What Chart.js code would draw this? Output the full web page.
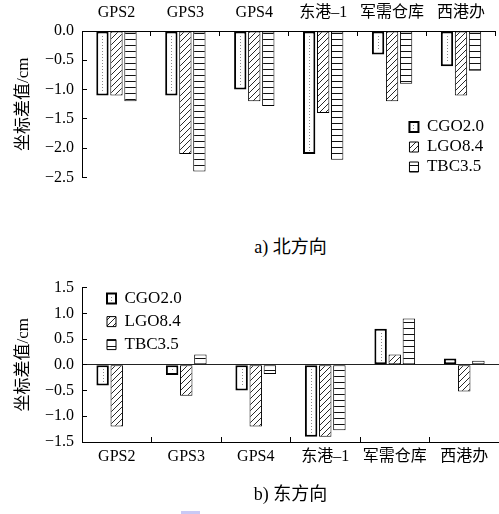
<!DOCTYPE html>
<html>
<head>
<meta charset="utf-8">
<script src="https://cdn.jsdelivr.net/npm/chart.js@4.4.0/dist/chart.umd.min.js"></script>
<style>
  html, body { margin: 0; padding: 0; background: #fff; }
  #wrap { position: relative; width: 499px; height: 514px; overflow: hidden; }
  #northBox { position: absolute; left: 0; top: 0; width: 499px; height: 200px; }
  #eastBox { position: absolute; left: 0; top: 265px; width: 499px; height: 215px; }
  .cap { position: absolute; left: 82px; width: 417px; text-align: center;
         font: 18px 'Liberation Serif', 'Noto Sans CJK SC', serif; color: #000; }
  #mark { position: absolute; left: 181px; top: 511px; width: 19px; height: 3px; background: #c9c9f5; }
</style>
</head>
<body>
<div id="wrap">
  <div id="northBox"><canvas id="north"></canvas></div>
  <div class="cap" style="top:232px">a) 北方向</div>
  <div id="eastBox"><canvas id="east"></canvas></div>
  <div class="cap" style="top:479px">b) 东方向</div>
  <div id="mark"></div>
</div>
<script>
// stations and series
const stations = ['GPS2', 'GPS3', 'GPS4', '东港–1', '军需仓库', '西港办'];
const seriesNames = ['CGO2.0', 'LGO8.4', 'TBC3.5'];

// a) north differences (cm)
const northCGO = [-1.1, -1.1, -1.0, -2.1, -0.4, -0.6];
const northLGO = [-1.1, -2.1, -1.2, -1.4, -1.2, -1.1];
const northTBC = [-1.2, -2.4, -1.28, -2.2, -0.9, -0.68];

// b) east differences (cm)
const eastCGO = [-0.4, -0.2, -0.5, -1.4, 0.7, 0.12];
const eastLGO = [-1.2, -0.6, -1.2, -1.4, 0.2, -0.52];
const eastTBC = [0, 0.2, -0.18, -1.27, 0.9, 0.08];

// y tick labels
const northTicks = [0.0, -0.5, -1.0, -1.5, -2.0, -2.5];
const eastTicks = [1.5, 1.0, 0.5, 0.0, -0.5, -1.0, -1.5];

const FONT = "'Liberation Serif', 'Noto Sans CJK SC', serif";

function makePattern(kind) {
  const c = document.createElement('canvas');
  c.width = 6; c.height = 6;
  const g = c.getContext('2d');
  g.fillStyle = '#fff';
  g.fillRect(0, 0, 6, 6);
  g.strokeStyle = '#111';
  g.lineWidth = kind === 'diag' ? 0.9 : 1;
  g.beginPath();
  if (kind === 'diag') {
    g.moveTo(0, 6); g.lineTo(6, 0);
    g.moveTo(-1, 1); g.lineTo(1, -1);
    g.moveTo(5, 7); g.lineTo(7, 5);
  } else {
    g.moveTo(0, 3.5); g.lineTo(6, 3.5);
  }
  g.stroke();
  return g.createPattern(c, 'repeat');
}

const diagFill = makePattern('diag');
const lineFill = makePattern('lines');

// dotted centre line in the CGO bars (and its legend box)
const cgoDots = {
  id: 'cgoDots',
  afterDatasetsDraw(chart) {
    const ctx = chart.ctx;
    const meta = chart.getDatasetMeta(0);
    ctx.save();
    ctx.fillStyle = '#8a8a8a';
    meta.data.forEach(bar => {
      const top = Math.min(bar.y, bar.base) + 4;
      const bot = Math.max(bar.y, bar.base) - 4;
      const x = Math.round(bar.x);
      for (let y = top; y <= bot; y += 3) ctx.fillRect(x, Math.round(y), 1, 1);
    });
    ctx.restore();
  },
  afterDraw(chart) {
    const hb = chart.legend && chart.legend.legendHitBoxes[0];
    if (!hb) return;
    const ctx = chart.ctx;
    ctx.save();
    ctx.fillStyle = '#8a8a8a';
    const x = Math.round(hb.left + 4);
    const yc = Math.round(hb.top + hb.height / 2);
    ctx.fillRect(x, yc - 2, 1, 1);
    ctx.fillRect(x, yc + 1, 1, 1);
    ctx.restore();
  }
};

// put the legend inside the plot area
const legendPlace = {
  id: 'legendPlace',
  afterLayout(chart, args, opts) {
    const lg = chart.legend;
    const a = chart.chartArea;
    const pad = lg.options.labels.padding;
    const fs = lg.options.labels.font.size;
    const w = lg.width, h = lg.height;
    const boxLeft = opts.fromRight ? a.right - opts.dx : a.left + opts.dx;
    lg.left = boxLeft - pad;
    lg.right = lg.left + w;
    lg.top = a.top + opts.dy - pad - fs / 2;
    lg.bottom = lg.top + h;
  }
};

function datasets(cgo, lgo, tbc) {
  return [
    { label: seriesNames[0], data: cgo, backgroundColor: '#fff', borderColor: '#000', borderWidth: 2 },
    { label: seriesNames[1], data: lgo, backgroundColor: diagFill, borderColor: '#000', borderWidth: 1 },
    { label: seriesNames[2], data: tbc, backgroundColor: lineFill, borderColor: '#000', borderWidth: 1 }
  ];
}

function fmt(v) {
  return v.toFixed(1).replace('-', '−');
}

function buildChart(id, cgo, lgo, tbc, ticks, xPos, legendOpts, padding, xHeight, labelPad) {
  const inner = (ctx) => (ctx.index === 0 || ctx.index === stations.length) ? 'rgba(0,0,0,0)' : '#000';
  return new Chart(document.getElementById(id), {
    type: 'bar',
    data: { labels: stations, datasets: datasets(cgo, lgo, tbc) },
    options: {
      responsive: true,
      maintainAspectRatio: false,
      animation: false,
      devicePixelRatio: 1,
      layout: { padding: padding },
      datasets: {
        bar: { categoryPercentage: 0.61, barPercentage: 0.88, borderSkipped: false }
      },
      plugins: {
        legend: {
          position: 'chartArea',
          align: 'start',
          labels: {
            boxWidth: 9,
            boxHeight: 10,
            padding: legendOpts.pad,
            color: '#000',
            font: { family: FONT, size: 17 }
          }
        },
        legendPlace: legendOpts,
        tooltip: { enabled: false }
      },
      scales: {
        x: {
          position: xPos,
          afterFit: (s) => { s.height = xHeight; },
          border: { display: true, color: '#000', width: 1 },
          grid: { drawOnChartArea: false, tickLength: -5, tickColor: inner, offset: true },
          ticks: { color: '#000', padding: labelPad, font: { family: FONT, size: 16 }, maxRotation: 0, autoSkip: false }
        },
        y: {
          min: Math.min(...ticks),
          max: Math.max(...ticks),
          afterFit: (s) => { s.width = 82; },
          afterBuildTicks: (s) => { s.ticks = ticks.map(v => ({ value: v })); },
          border: { display: true, color: '#000', width: 1 },
          grid: {
            drawOnChartArea: xPos === 'bottom',
            color: (ctx) => (ctx.tick && ctx.tick.value === 0) ? '#222' : 'rgba(0,0,0,0)',
            tickColor: '#000',
            tickLength: -5
          },
          ticks: {
            color: '#000',
            padding: 13,
            font: { family: FONT, size: 16 },
            callback: (v) => fmt(v)
          },
          title: {
            display: true,
            text: '坐标差值/cm',
            color: '#000',
            font: { family: FONT, size: 17 },
            padding: { top: 13, bottom: 0 }
          }
        }
      }
    },
    plugins: [cgoDots, legendPlace]
  });
}

buildChart('north', northCGO, northLGO, northTBC, northTicks, 'top',
  { fromRight: true, dx: 86, dy: 96, pad: 3 },
  { left: 0, right: 0, top: 0, bottom: 15 }, 31, 14);

buildChart('east', eastCGO, eastLGO, eastTBC, eastTicks, 'bottom',
  { fromRight: false, dx: 25, dy: 11, pad: 6 },
  { left: 0, right: 0, top: 21, bottom: 0 }, 38, 10);
</script>
</body>
</html>
